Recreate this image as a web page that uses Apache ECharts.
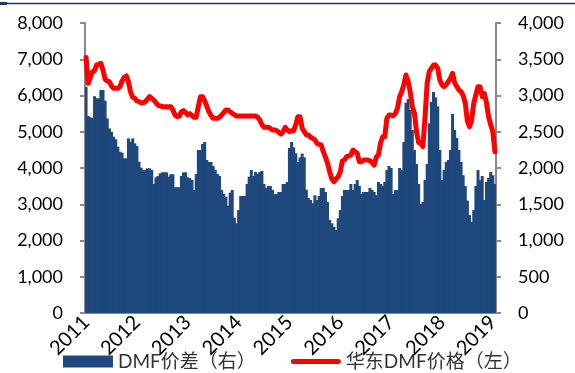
<!DOCTYPE html>
<html>
<head>
<meta charset="utf-8">
<script src="https://cdn.jsdelivr.net/npm/echarts@6/dist/echarts.min.js"></script>
<style>
  html, body { margin: 0; padding: 0; background: #fff; }
  #main { width: 575px; height: 373px; }
</style>
</head>
<body>
<div id="main"></div>
<script>
// half-month periods, 2011-01 .. 2019-01
var periods = [];
for (var y = 2011; y <= 2019; y++) {
  for (var m = 1; m <= 12; m++) {
    var mm = (m < 10 ? '0' : '') + m;
    periods.push(y + '-' + mm + '-01', y + '-' + mm + '-16');
  }
}
periods = periods.slice(0, 194);

var seriesNames = ['DMF价差（右）', '华东DMF价格（左）'];

// DMF价差, right axis
var spread = [
  3120, 2717, 2700, 2690, 2990, 2961, 2961, 3076, 3076, 2929,
  2685, 2547, 2500, 2432, 2396, 2294, 2225, 2211, 2133, 2133,
  2409, 2363, 2409, 2340, 2303, 2087, 2004, 1972, 1972, 1995,
  1995, 1972, 1779, 1871, 1890, 1926, 1940, 1940, 1940, 1880,
  1913, 1913, 1734, 1734, 1734, 1890, 1940, 1940, 1871, 1860,
  1834, 1697, 1917, 2248, 2248, 2331, 2359, 2110, 2083, 2083,
  2028, 1972, 1917, 1890, 1697, 1641, 1604, 1480, 1659, 1697,
  1315, 1237, 1421, 1614, 1614, 1614, 1779, 1880, 1972, 1890,
  1945, 1917, 1945, 1960, 1779, 1724, 1752, 1752, 1697, 1641,
  1641, 1669, 1669, 1779, 1779, 1807, 2276, 2359, 2285, 2202,
  2083, 2147, 2200, 2147, 1700, 1586, 1559, 1513, 1623, 1559,
  1614, 1724, 1724, 1669, 1531, 1283, 1237, 1191, 1145, 1306,
  1421, 1614, 1697, 1697, 1697, 1779, 1697, 1779, 1834, 1752,
  1641, 1669, 1669, 1669, 1724, 1697, 1669, 1623, 1807, 1779,
  1752, 1807, 1972, 2028, 2000, 1641, 1697, 1697, 2000, 1972,
  2359, 2900, 2950, 2800, 2524, 2248, 2055, 1779, 1503, 1531,
  1834, 2055, 2616, 2910, 3048, 2975, 2850, 2248, 1834, 1972,
  2083, 2110, 2248, 2745, 2524, 2414, 2248, 2083, 1900, 1750,
  1550, 1350, 1255, 1421, 1752, 1972, 1834, 1890, 1559, 1807,
  1862, 1945, 1900, 1780
];

// 华东DMF价格, left axis
var price = [
  7050, 6337, 6500, 6657, 6685, 6842, 6860, 6888, 6700, 6447,
  6400, 6382, 6263, 6199, 6199, 6199, 6244, 6400, 6500, 6539,
  6382, 6100, 5950, 5923, 5850, 5830, 5802, 5802, 5830, 5900,
  5968, 5923, 5870, 5802, 5730, 5711, 5692, 5692, 5692, 5692,
  5692, 5601, 5463, 5416, 5430, 5554, 5582, 5530, 5463, 5500,
  5450, 5398, 5398, 5700, 5968, 5968, 5850, 5700, 5550, 5450,
  5371, 5371, 5371, 5400, 5463, 5530, 5601, 5601, 5550, 5509,
  5470, 5435, 5435, 5435, 5435, 5435, 5435, 5435, 5435, 5435,
  5435, 5400, 5325, 5200, 5123, 5123, 5123, 5090, 5049, 5049,
  5030, 4980, 4939, 5000, 5123, 5050, 5003, 5030, 5030, 5200,
  5416, 5416, 5100, 5003, 4911, 4911, 4850, 4819, 4780, 4682,
  4650, 4635, 4451, 4300, 4130, 3898, 3700, 3623, 3700, 3761,
  3898, 4200, 4221, 4313, 4330, 4359, 4497, 4450, 4405, 4175,
  4175, 4221, 4221, 4221, 4200, 4150, 4083, 4300, 4359, 4682,
  4865, 4865, 5371, 5463, 5463, 5440, 5500, 5647, 5968, 6100,
  6300, 6566, 6400, 6100, 5700, 5509, 5000, 4700, 4682, 4589,
  5400, 6337, 6657, 6750, 6842, 6842, 6750, 6428, 6300, 6244,
  6300, 6382, 6475, 6613, 6350, 6244, 6153, 6106, 6000, 5786,
  5300, 5140, 5325, 5786, 6015, 6244, 6244, 5968, 6061, 5800,
  5416, 5200, 5000, 4450
];

var leftTicks = { min: 0, max: 8000, interval: 1000 };
var rightTicks = { min: 0, max: 4000, interval: 500 };

var font = 'Lato, "Noto Sans CJK SC", sans-serif';
var axisGrey = '#898989';
function thousands(v) { return v.toLocaleString('en-US'); }

var myChart = echarts.init(document.getElementById('main'));
var option = {
  animation: false,
  textStyle: { fontFamily: font },
  graphic: [
    { type: 'line', shape: { x1: 0, y1: 3.5, x2: 575, y2: 3.5 }, style: { stroke: '#1f3864', lineWidth: 1.5 } },
    { type: 'rect', shape: { x: 0, y: 2, width: 7, height: 3 }, style: { fill: '#1f3864' } }
  ],
  grid: { left: 85, right: 79, top: 23, bottom: 60 },
  legend: {
    data: [
      { name: seriesNames[0], icon: 'rect' },
      { name: seriesNames[1], icon: 'path://M2.5,0H47.5A2.5,2.5 0 0 1 47.5,5H2.5A2.5,2.5 0 0 1 2.5,0Z' }
    ],
    left: 58,
    top: 350,
    padding: [2, 5],
    itemWidth: 50,
    itemHeight: 12,
    itemGap: 35,
    textStyle: { fontSize: 19, color: '#333', fontFamily: font }
  },
  xAxis: {
    type: 'category',
    data: periods,
    boundaryGap: true,
    axisLine: { lineStyle: { color: axisGrey, width: 2 } },
    axisTick: {
      alignWithLabel: true,
      length: 5,
      lineStyle: { color: axisGrey, width: 2 },
      interval: function (idx) { return idx % 12 === 0; }
    },
    axisLabel: {
      interval: function (idx) { return idx % 24 === 0; },
      formatter: function (v) { return v.slice(0, 4); },
      rotate: 45,
      margin: 6,
      fontSize: 20,
      color: '#000'
    }
  },
  yAxis: [
    {
      type: 'value',
      position: 'left',
      min: leftTicks.min, max: leftTicks.max, interval: leftTicks.interval,
      axisLine: { show: true, lineStyle: { color: axisGrey, width: 2 } },
      axisTick: { show: true, length: 5, lineStyle: { color: axisGrey, width: 2 } },
      splitLine: { show: false },
      axisLabel: { formatter: thousands, fontSize: 18, color: '#000', margin: 22 }
    },
    {
      type: 'value',
      position: 'right',
      min: rightTicks.min, max: rightTicks.max, interval: rightTicks.interval,
      axisLine: { show: true, lineStyle: { color: axisGrey, width: 2 } },
      axisTick: { show: true, length: 5, lineStyle: { color: axisGrey, width: 2 } },
      splitLine: { show: false },
      axisLabel: { formatter: thousands, fontSize: 18, color: '#000', margin: 22 }
    }
  ],
  series: [
    {
      name: seriesNames[0],
      type: 'bar',
      yAxisIndex: 1,
      data: spread,
      barWidth: 3,
      itemStyle: { color: '#1F497D' },
      z: 1
    },
    {
      name: seriesNames[1],
      type: 'line',
      yAxisIndex: 0,
      data: price,
      symbol: 'none',
      lineStyle: { color: '#FF0000', width: 5, cap: 'round', join: 'round' },
      itemStyle: { color: '#FF0000' },
      z: 3
    }
  ]
};
myChart.setOption(option);
</script>
</body>
</html>
